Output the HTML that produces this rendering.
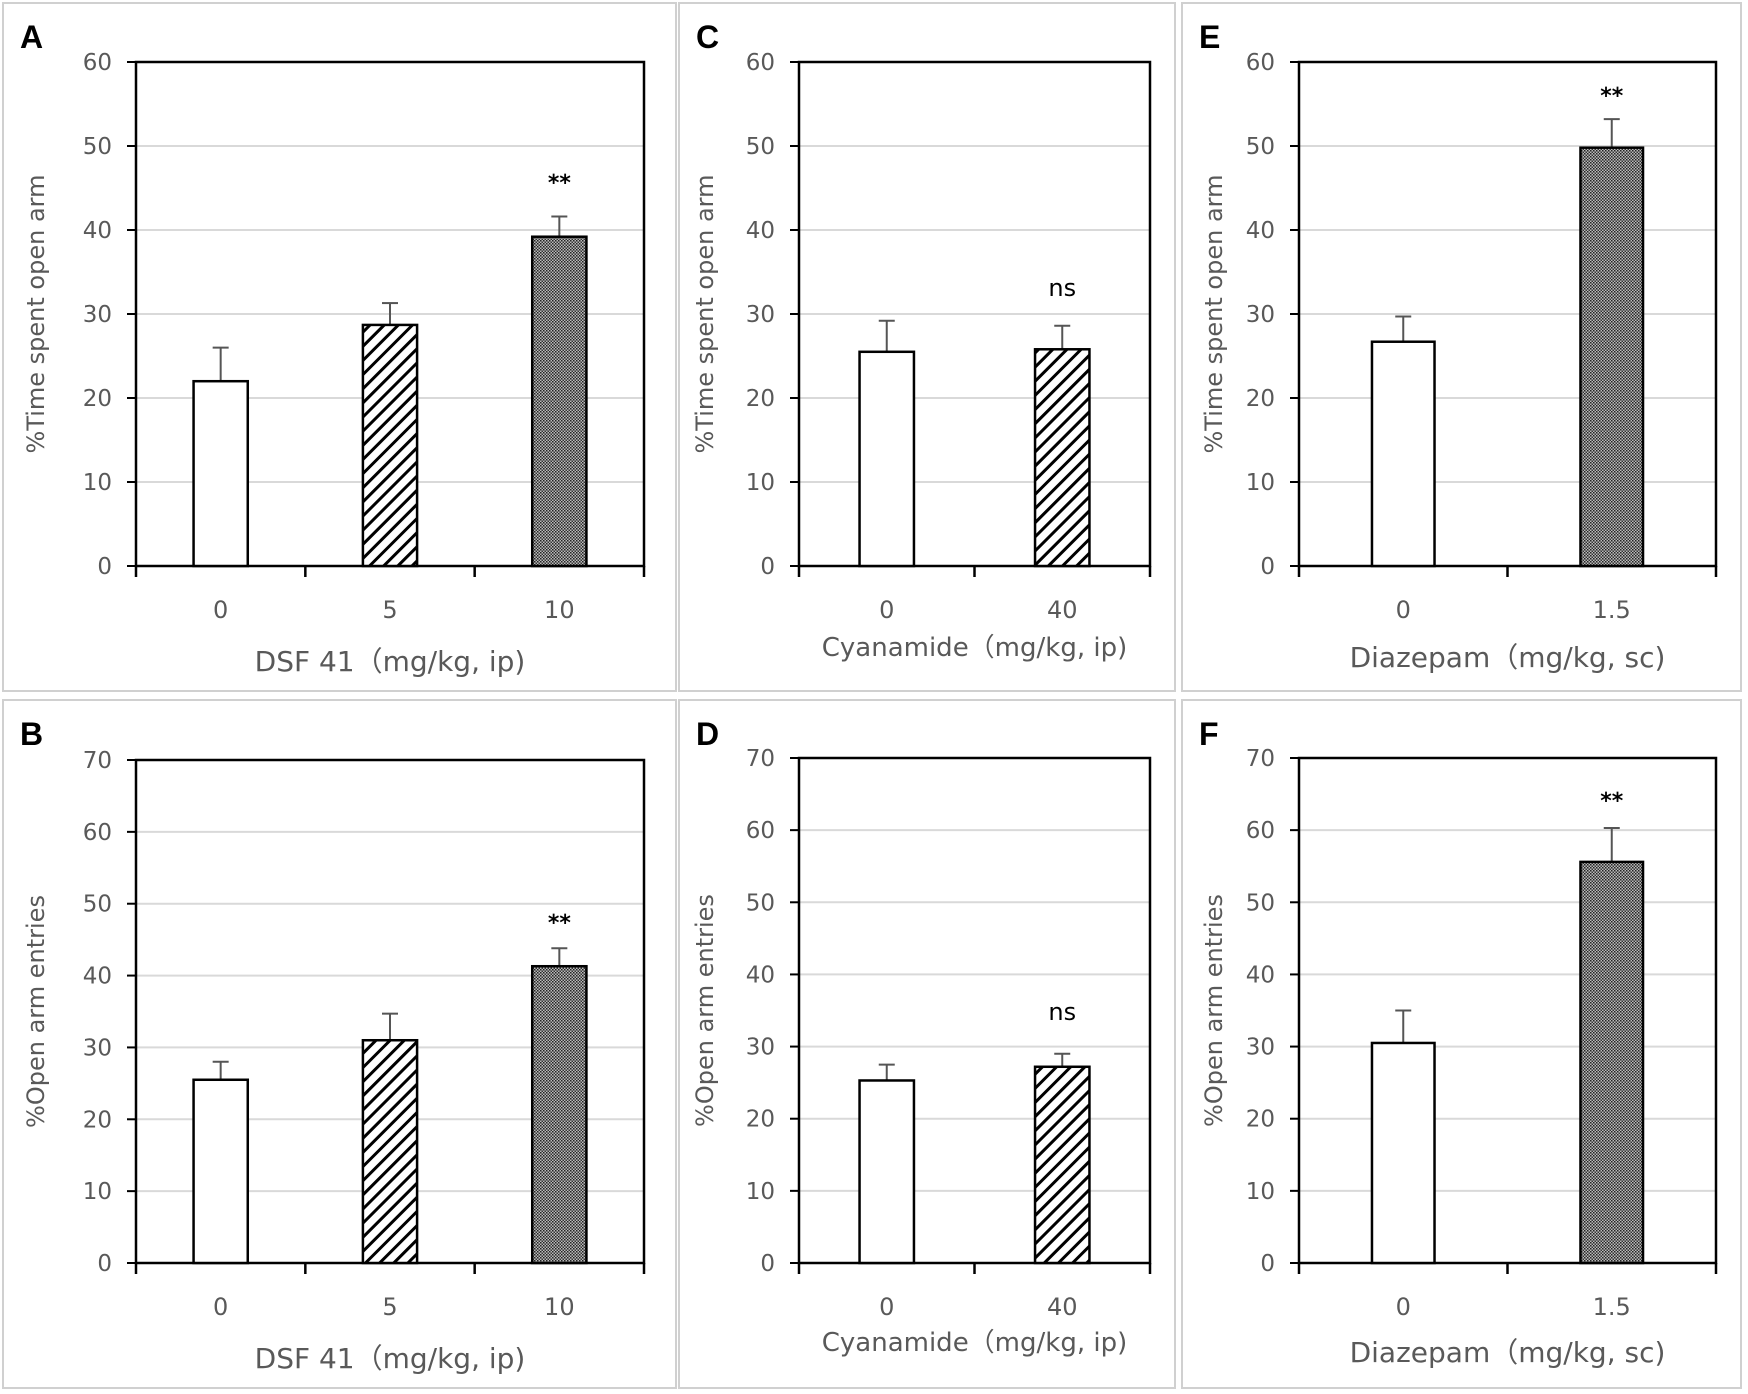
<!DOCTYPE html>
<html><head><meta charset="utf-8"><style>
html,body{margin:0;padding:0;background:#fff;}
svg{display:block;font-family:"DejaVu Sans","Liberation Sans",sans-serif;}
</style></head><body>
<svg id="fig" width="1748" height="1394" viewBox="0 0 1748 1394" xmlns="http://www.w3.org/2000/svg">
<defs>
<pattern id="hatch" patternUnits="userSpaceOnUse" width="10" height="10" patternTransform="rotate(45)">
<rect width="10" height="10" fill="#fff"/>
<rect x="0" y="0" width="3" height="10" fill="#000"/>
</pattern>
<pattern id="dots" patternUnits="userSpaceOnUse" width="3" height="3">
<rect width="3" height="3" fill="#bbb"/>
<rect width="1.5" height="1.5" fill="#222"/>
<rect x="1.5" y="1.5" width="1.5" height="1.5" fill="#333"/>
</pattern>
</defs>
</svg>
<script>
// Panel A data
const catsA = ["0","5","10"];
const valsA = [22, 28.7, 39.2];
const errsA = [26, 31.3, 41.6];
// Panel B data
const catsB = ["0","5","10"];
const valsB = [25.5, 31, 41.3];
const errsB = [28, 34.7, 43.8];
// Panel C data
const catsC = ["0","40"];
const valsC = [25.5, 25.8];
const errsC = [29.2, 28.6];
// Panel D data
const catsD = ["0","40"];
const valsD = [25.3, 27.2];
const errsD = [27.5, 29];
// Panel E data
const catsE = ["0","1.5"];
const valsE = [26.7, 49.8];
const errsE = [29.7, 53.2];
// Panel F data
const catsF = ["0","1.5"];
const valsF = [30.5, 55.6];
const errsF = [35, 60.3];
const ticks60 = [0,10,20,30,40,50,60];
const ticks70 = [0,10,20,30,40,50,60,70];

const NS = "http://www.w3.org/2000/svg";
const svg = document.getElementById("fig");
function mk(tag, attrs, parent, text){
  const e = document.createElementNS(NS, tag);
  for (const k in attrs) e.setAttribute(k, attrs[k]);
  if (text !== undefined) e.textContent = text;
  (parent||svg).appendChild(e);
  return e;
}

function panel(cfg){
  const g = mk("g", {});
  
  
  const fr = mk("rect", {x:cfg.px, y:cfg.py, width:cfg.pw, height:cfg.ph, fill:"#fff", stroke:"#d0d0d0", "stroke-width":2}, g);
  
  
  const L = cfg.l, R = cfg.r, T = cfg.t, B = cfg.b;
  const max = cfg.ticks[cfg.ticks.length-1];
  const y = v => B - (v/max)*(B-T);
  const n = cfg.cats.length;
  const band = (R-L)/n;
  const xc = i => L + band*(i+0.5);
  cfg.ticks.forEach(t=>{
    if (t>0 && t<max){
      const gl = mk("line",{x1:L,x2:R,y1:y(t),y2:y(t),stroke:"#d9d9d9","stroke-width":2},g);
      
      
    }
    const tk = mk("line",{x1:L-9,x2:L,y1:y(t),y2:y(t),stroke:"#000","stroke-width":2},g);
    
    
    const tl = mk("text",{x:L-24,y:y(t)+8,"text-anchor":"end","font-size":23,fill:"#595959"},g,String(t));
    
    
  });
  const pf = mk("rect",{x:L,y:T,width:R-L,height:B-T,fill:"none",stroke:"#000","stroke-width":2.5},g);
  
  
  for (let i=0;i<=n;i++){
    const xt = mk("line",{x1:L+band*i,x2:L+band*i,y1:B,y2:B+11,stroke:"#000","stroke-width":2.5},g);
    
    
  }
  const fills = cfg.fills;
  cfg.cats.forEach((c,i)=>{
    const bw = band*cfg.bwf;
    const cx = xc(i);
    const eb = mk("line",{x1:cx,x2:cx,y1:y(cfg.vals[i]),y2:y(cfg.errs[i]),stroke:"#555","stroke-width":2},g);
    
    
    const ec = mk("line",{x1:cx-8,x2:cx+8,y1:y(cfg.errs[i]),y2:y(cfg.errs[i]),stroke:"#555","stroke-width":2},g);
    
    
    const b = mk("rect",{x:cx-bw/2,y:y(cfg.vals[i]),width:bw,height:B-y(cfg.vals[i]),fill:fills[i],stroke:"#000","stroke-width":2.5},g);
    
    
    const xl = mk("text",{x:cx,y:B+52,"text-anchor":"middle","font-size":24,fill:"#595959"},g,c);
    
    
  });
  const si = cfg.sigIdx;
  const st = mk("text",{x:xc(si),y:cfg.sigY,"text-anchor":"middle","font-size":cfg.sig==="ns"?24:22,"font-weight":cfg.sig==="ns"?"normal":"bold",fill:"#000"},g,cfg.sig);
  
  
  const xa = mk("text",{x:(L+R)/2,y:cfg.xly,"text-anchor":"middle","font-size":cfg.xlfs,fill:"#595959","font-family":"\"DejaVu Sans\",\"Noto Sans CJK JP\",sans-serif"},g,cfg.xlabel);
  
  
  const yx = cfg.ylx, yy=(T+B)/2;
  const ya = mk("text",{x:yx,y:yy,"text-anchor":"middle","font-size":24,fill:"#595959",transform:`rotate(-90 ${yx} ${yy})`},g,cfg.ylabel);
  
  
  const lt = mk("text",{x:cfg.px+17,y:cfg.py+45,"font-size":32,"font-weight":"bold",fill:"#000","font-family":"\"Liberation Sans\",sans-serif"},g,cfg.letter);
  
  
}
const W="#fff", H="url(#hatch)", D="url(#dots)";
const yl1="%Time spent open arm", yl2="%Open arm entries";
panel({letter:"A",px:3,py:3,pw:673,ph:688,l:136,r:644,t:62,b:566,ticks:ticks60,cats:catsA,vals:valsA,errs:errsA,fills:[W,H,D],bwf:0.32,sig:"**",sigIdx:2,sigY:190,xlabel:"DSF 41（mg/kg, ip)",xly:671,xlfs:28,ylabel:yl1,ylx:44});
panel({letter:"B",px:3,py:700,pw:673,ph:688,l:136,r:644,t:760,b:1263,ticks:ticks70,cats:catsB,vals:valsB,errs:errsB,fills:[W,H,D],bwf:0.32,sig:"**",sigIdx:2,sigY:930,xlabel:"DSF 41（mg/kg, ip)",xly:1368,xlfs:28,ylabel:yl2,ylx:44});
panel({letter:"C",px:679,py:3,pw:496,ph:688,l:799,r:1150,t:62,b:566,ticks:ticks60,cats:catsC,vals:valsC,errs:errsC,fills:[W,H],bwf:0.31,sig:"ns",sigIdx:1,sigY:296,xlabel:"Cyanamide（mg/kg,  ip)",xly:656,xlfs:26,ylabel:yl1,ylx:713});
panel({letter:"D",px:679,py:700,pw:496,ph:688,l:799,r:1150,t:758,b:1263,ticks:ticks70,cats:catsD,vals:valsD,errs:errsD,fills:[W,H],bwf:0.31,sig:"ns",sigIdx:1,sigY:1020,xlabel:"Cyanamide（mg/kg,  ip)",xly:1351,xlfs:26,ylabel:yl2,ylx:713});
panel({letter:"E",px:1182,py:3,pw:559,ph:688,l:1299,r:1716,t:62,b:566,ticks:ticks60,cats:catsE,vals:valsE,errs:errsE,fills:[W,D],bwf:0.3,sig:"**",sigIdx:1,sigY:103,xlabel:"Diazepam（mg/kg, sc)",xly:667,xlfs:28,ylabel:yl1,ylx:1222});
panel({letter:"F",px:1182,py:700,pw:559,ph:688,l:1299,r:1716,t:758,b:1263,ticks:ticks70,cats:catsF,vals:valsF,errs:errsF,fills:[W,D],bwf:0.3,sig:"**",sigIdx:1,sigY:808,xlabel:"Diazepam（mg/kg, sc)",xly:1362,xlfs:28,ylabel:yl2,ylx:1222});
</script>
</body></html>
